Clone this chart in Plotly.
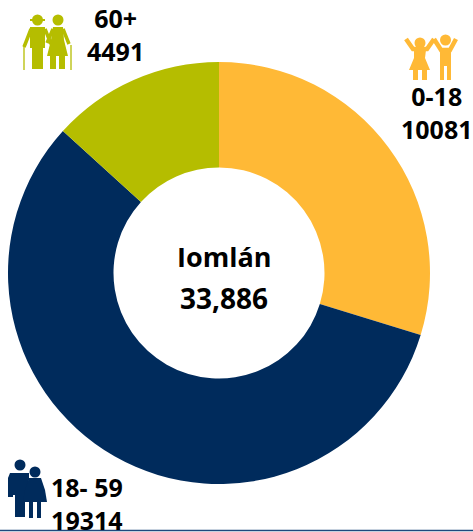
import plotly.graph_objects as go

W, H = 473, 532
groups = ["0-18", "18- 59", "60+"]
values = [10081, 19314, 4491]
colors = ["#FFB936", "#002B5C", "#B5BD00"]
total_label = ["Iomlán", "33,886"]

def X(v): return v / W
def Y(v): return 1 - v / H

def poly(pts):
    return "M" + " L".join(f"{X(a):.5f},{Y(b):.5f}" for a, b in pts) + " Z"

def circle(cx, cy, r, color):
    return dict(type="circle", xref="paper", yref="paper", x0=X(cx - r), x1=X(cx + r),
                y0=Y(cy + r), y1=Y(cy - r), fillcolor=color, line_width=0, layer="above")

def shape(pts, color):
    return dict(type="path", xref="paper", yref="paper", path=poly(pts), fillcolor=color,
                line_width=0, layer="above")

def line(pts, color, w):
    p = "M" + " L".join(f"{X(a):.5f},{Y(b):.5f}" for a, b in pts)
    return dict(type="path", xref="paper", yref="paper", path=p,
                line=dict(color=color, width=w), layer="above")

shapes = []
# elders icon
c = colors[2]
shapes += [circle(37.5, 20, 5.5, c), shape([(30, 19), (45, 19), (45, 21), (30, 21)], c),
           circle(58, 20, 5.5, c),
           shape([(30, 27), (45, 27), (45, 48), (43, 48), (43, 69), (32, 69), (32, 48), (30, 48)], c),
           line([(31, 29), (26, 42), (24, 47)], c, 3.5),
           line([(45, 29), (51, 44)], c, 3.5),
           line([(24, 45), (24, 70)], c, 1.3),
           shape([(53, 27), (63, 27), (64, 40), (68, 56), (47, 56), (51, 40)], c),
           shape([(50, 56), (56, 56), (56, 69), (50, 69)], c),
           shape([(59, 56), (65, 56), (65, 69), (59, 69)], c),
           line([(53, 29), (47, 43)], c, 3.5),
           line([(63, 29), (69, 44)], c, 3.5),
           line([(71, 45), (71, 70)], c, 1.3)]
# children icon
c = colors[0]
shapes += [circle(420, 43, 5.5, c), circle(445.5, 40, 5.5, c),
           line([(406, 39), (413, 49), (427, 49), (434, 39)], c, 4.5),
           shape([(414, 50), (426, 50), (425, 58), (430, 70), (409, 70), (414, 58)], c),
           shape([(413, 69), (418, 69), (418, 80), (413, 80)], c),
           shape([(422, 69), (427, 69), (427, 80), (422, 80)], c),
           line([(434, 39), (441, 50), (450, 50), (456, 39)], c, 4.5),
           shape([(440, 49), (451, 49), (451, 80), (447, 80), (447, 66), (444, 66), (444, 80), (440, 80)], c)]
# adults icon
c = colors[1]
shapes += [circle(20, 465, 5.5, c), circle(35, 472, 5.5, c),
           shape([(10, 473), (29, 473), (29, 480), (25, 495), (25, 517), (15, 517), (15, 495), (13, 495), (13, 497), (8, 497), (8, 478)], c),
           shape([(29, 478), (41, 478), (45, 490), (47, 502), (23, 502), (25, 490)], c),
           shape([(29, 502), (33, 502), (33, 518), (29, 518)], c),
           shape([(37, 502), (41, 502), (41, 518), (37, 518)], c)]
# bottom rule
shapes.append(dict(type="line", xref="paper", yref="paper", x0=0, x1=1, y0=Y(530.5), y1=Y(530.5),
                   line=dict(color="#1F497D", width=1.5)))

fig = go.Figure(go.Pie(
    labels=groups, values=values, hole=0.5, sort=False, direction="clockwise", rotation=0,
    marker=dict(colors=colors, line=dict(width=0)), textinfo="none", hoverinfo="label+value",
    showlegend=False, domain=dict(x=[X(8), X(430)], y=[Y(484), Y(62)]),
))

def note(text, x, y, size=25):
    f = dict(family="Open Sans", size=size, color="#000000", weight="bold")
    return dict(text=text, x=X(x), y=Y(y), xref="paper", yref="paper", showarrow=False,
                xanchor="center", yanchor="middle", align="center", font=f)

annotations = [
    note(total_label[0], 224, 257, 27), note(total_label[1], 224, 298, 28),
    note(f"{groups[2]}<br>{values[2]}", 115, 35),
    note(f"{groups[0]}<br>{values[0]}", 436, 113),
    note(f"{groups[1]}<br>{values[1]}", 87, 503),
]

fig.update_layout(width=W, height=H, margin=dict(l=0, r=0, t=0, b=0), paper_bgcolor="white",
                  annotations=annotations, shapes=shapes)
fig.write_html("out.html", config=dict(displayModeBar=False),
               post_script="document.body.style.margin='0';document.documentElement.style.overflow='hidden';")
